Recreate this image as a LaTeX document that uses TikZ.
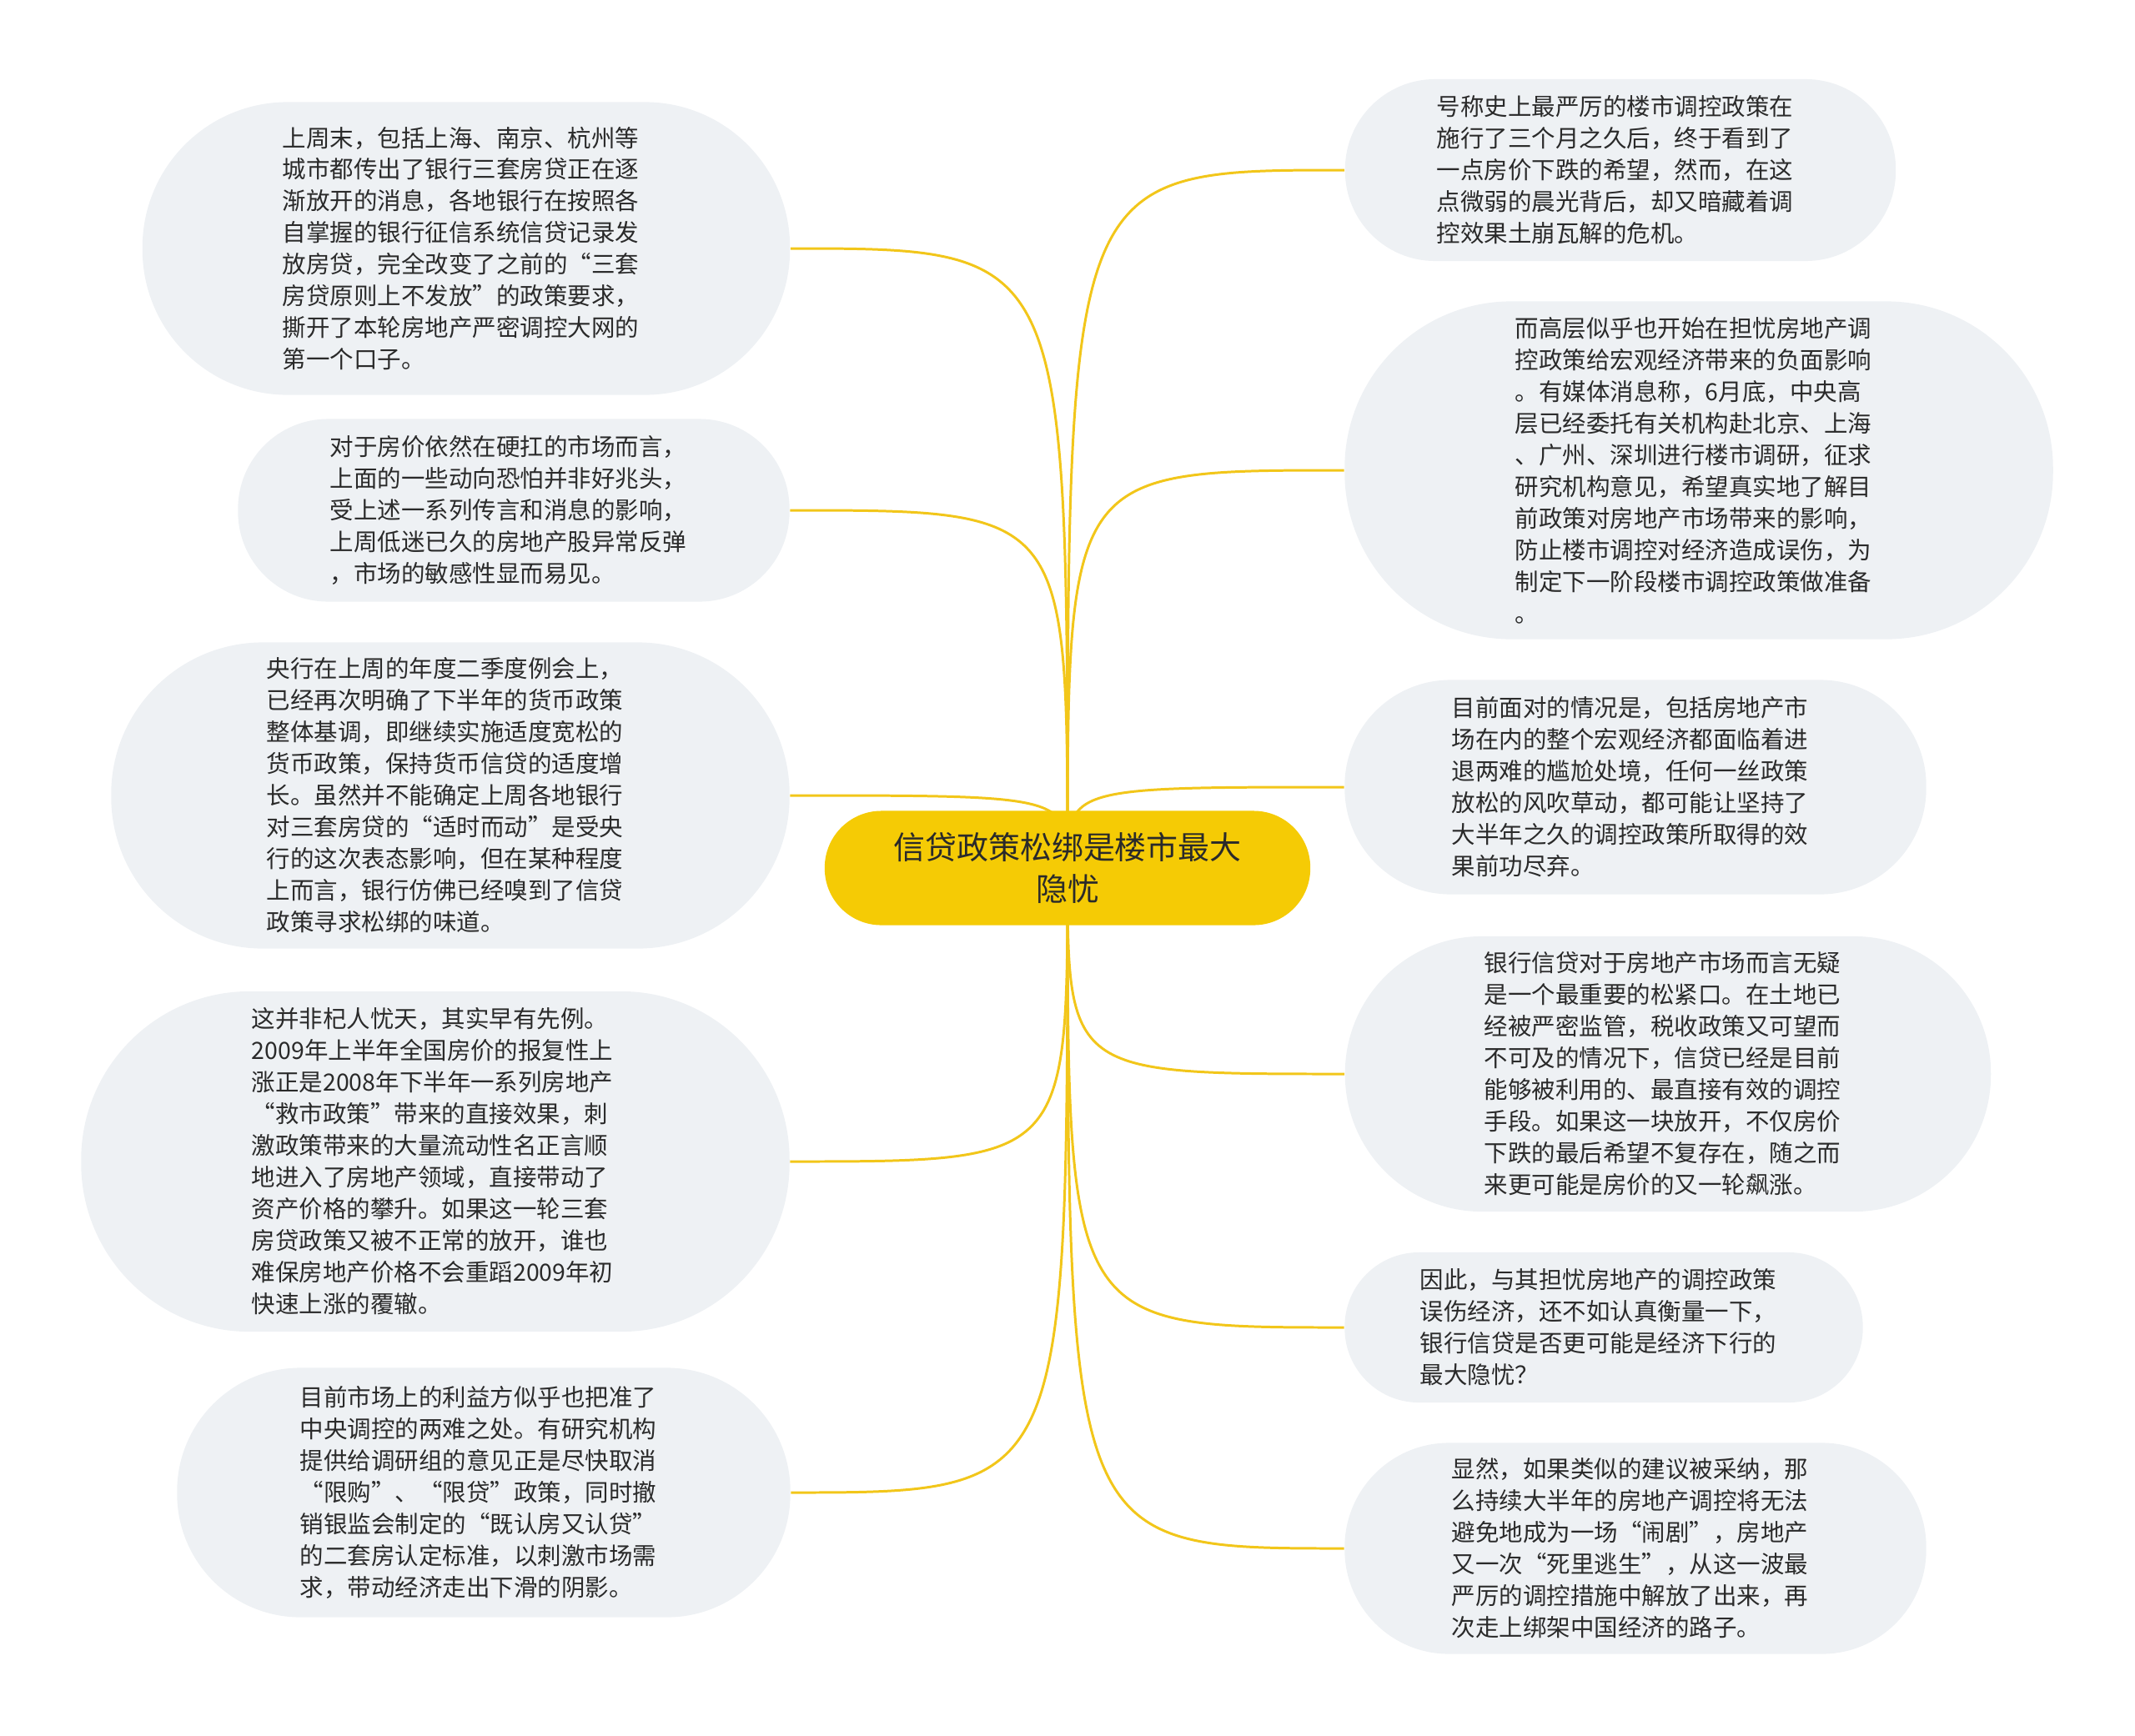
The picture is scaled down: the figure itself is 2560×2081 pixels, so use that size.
\documentclass[tikz,border=0pt]{standalone}
\usepackage{fontspec}
\setmainfont{Noto Sans CJK SC}
\usetikzlibrary{backgrounds}
\definecolor{bubblegray}{HTML}{EEF1F4}
\definecolor{rootyellow}{HTML}{F5CB05}
\definecolor{linkyellow}{HTML}{F2C61A}
\definecolor{inkgray}{HTML}{2A2A2A}

\begin{document}
\begin{tikzpicture}[x=0.01cm,y=-0.01cm,
  bubble/.style={fill=bubblegray,text=inkgray,align=left,text width=4.4cm,
    inner sep=0pt,font=\fontsize{8.1pt}{10.8pt}\selectfont},
  root/.style={fill=rootyellow,text=inkgray,align=center,inner sep=0pt,
    minimum width=5.82cm,minimum height=1.37cm,rounded corners=0.68cm,
    font=\fontsize{10.8pt}{14.4pt}\selectfont},
  link/.style={draw=linkyellow,line width=0.85pt}]
\useasboundingbox (0,0) rectangle (2560,2081);
% centre topic
\node[root] (hub) at (1280,1041) {信贷政策松绑是楼市最大\\隐忧};
% left branches
\node[bubble,minimum width=7.76cm,minimum height=3.51cm,rounded corners=1.74cm] (l1) at (559,298)
  {上周末，包括上海、南京、杭州等\\城市都传出了银行三套房贷正在逐\\渐放开的消息，各地银行在按照各\\自掌握的银行征信系统信贷记录发\\放房贷，完全改变了之前的“三套\\房贷原则上不发放”的政策要求，\\撕开了本轮房地产严密调控大网的\\第一个口子。};
\node[bubble,minimum width=6.61cm,minimum height=2.19cm,rounded corners=1.08cm] (l2) at (616,612)
  {对于房价依然在硬扛的市场而言，\\上面的一些动向恐怕并非好兆头，\\受上述一系列传言和消息的影响，\\上周低迷已久的房地产股异常反弹\\，市场的敏感性显而易见。};
\node[bubble,minimum width=8.13cm,minimum height=3.67cm,rounded corners=1.82cm] (l3) at (540,954)
  {央行在上周的年度二季度例会上，\\已经再次明确了下半年的货币政策\\整体基调，即继续实施适度宽松的\\货币政策，保持货币信贷的适度增\\长。虽然并不能确定上周各地银行\\对三套房贷的“适时而动”是受央\\行的这次表态影响，但在某种程度\\上而言，银行仿佛已经嗅到了信贷\\政策寻求松绑的味道。};
\node[bubble,minimum width=8.49cm,minimum height=4.08cm,rounded corners=2.02cm] (l4) at (522,1393)
  {这并非杞人忧天，其实早有先例。\\2009年上半年全国房价的报复性上\\涨正是2008年下半年一系列房地产\\“救市政策”带来的直接效果，刺\\激政策带来的大量流动性名正言顺\\地进入了房地产领域，直接带动了\\资产价格的攀升。如果这一轮三套\\房贷政策又被不正常的放开，谁也\\难保房地产价格不会重蹈2009年初\\快速上涨的覆辙。};
\node[bubble,minimum width=7.35cm,minimum height=2.99cm,rounded corners=1.48cm] (l5) at (580,1790)
  {目前市场上的利益方似乎也把准了\\中央调控的两难之处。有研究机构\\提供给调研组的意见正是尽快取消\\“限购”、“限贷”政策，同时撤\\销银监会制定的“既认房又认贷”\\的二套房认定标准，以刺激市场需\\求，带动经济走出下滑的阴影。};
% right branches
\node[bubble,minimum width=6.60cm,minimum height=2.18cm,rounded corners=1.08cm] (r1) at (1943,204)
  {号称史上最严厉的楼市调控政策在\\施行了三个月之久后，终于看到了\\一点房价下跌的希望，然而，在这\\点微弱的晨光背后，却又暗藏着调\\控效果土崩瓦解的危机。};
\node[bubble,minimum width=8.49cm,minimum height=4.05cm,rounded corners=2.0cm] (r2) at (2037,564)
  {而高层似乎也开始在担忧房地产调\\控政策给宏观经济带来的负面影响\\。有媒体消息称，6月底，中央高\\层已经委托有关机构赴北京、上海\\、广州、深圳进行楼市调研，征求\\研究机构意见，希望真实地了解目\\前政策对房地产市场带来的影响，\\防止楼市调控对经济造成误伤，为\\制定下一阶段楼市调控政策做准备\\。};
\node[bubble,minimum width=6.97cm,minimum height=2.57cm,rounded corners=1.27cm] (r3) at (1961,944)
  {目前面对的情况是，包括房地产市\\场在内的整个宏观经济都面临着进\\退两难的尴尬处境，任何一丝政策\\放松的风吹草动，都可能让坚持了\\大半年之久的调控政策所取得的效\\果前功尽弃。};
\node[bubble,minimum width=7.74cm,minimum height=3.30cm,rounded corners=1.64cm] (r4) at (2000,1288)
  {银行信贷对于房地产市场而言无疑\\是一个最重要的松紧口。在土地已\\经被严密监管，税收政策又可望而\\不可及的情况下，信贷已经是目前\\能够被利用的、最直接有效的调控\\手段。如果这一块放开，不仅房价\\下跌的最后希望不复存在，随之而\\来更可能是房价的又一轮飙涨。};
\node[bubble,minimum width=6.21cm,minimum height=1.80cm,rounded corners=0.89cm] (r5) at (1923,1592)
  {因此，与其担忧房地产的调控政策\\误伤经济，还不如认真衡量一下，\\银行信贷是否更可能是经济下行的\\最大隐忧？};
\node[bubble,minimum width=6.97cm,minimum height=2.53cm,rounded corners=1.25cm] (r6) at (1961,1857)
  {显然，如果类似的建议被采纳，那\\么持续大半年的房地产调控将无法\\避免地成为一场“闹剧”，房地产\\又一次“死里逃生”，从这一波最\\严厉的调控措施中解放了出来，再\\次走上绑架中国经济的路子。};
% connectors
\begin{scope}[on background layer]
\foreach \n in {l1,l2,l3,l4,l5}
  \draw[link] (hub.center) .. controls (hub.center |- \n.east) .. (\n.east);
\foreach \n in {r1,r2,r3,r4,r5,r6}
  \draw[link] (hub.center) .. controls (hub.center |- \n.west) .. (\n.west);
\end{scope}
\end{tikzpicture}
\end{document}
